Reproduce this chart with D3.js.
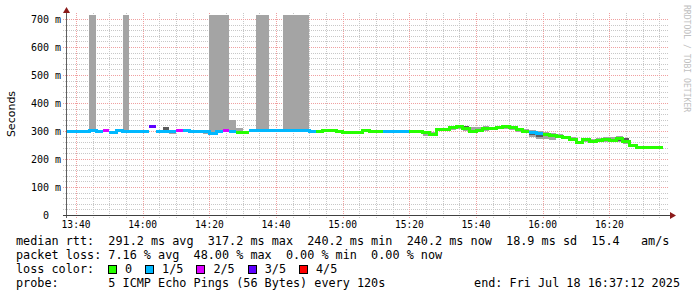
<!DOCTYPE html>
<html><head><meta charset="utf-8">
<script src="https://cdn.jsdelivr.net/npm/d3@7"></script>
<style>
body{margin:0;background:#fff}
svg{display:block}
text{white-space:pre}
</style>
</head><body>
<svg id="chart" width="697" height="297"></svg>
<script>
// ---------- data ----------
const sampleStart = new Date(2025, 6, 18, 13, 36, 0);
const stepSeconds = 120;
const viewStart = new Date(2025, 6, 18, 13, 37, 12);
const viewEnd = new Date(2025, 6, 18, 16, 37, 12);

const medianRtt = [299,299,297,300,301,300,303,293,301,299,
  298,298,298,315,300,298,299,302,301,300,
  297,297,292,297,303,300,296,296,301,302,
  302,302,302,302,302,302,302,300,298,301,
  301,300,296,295,296,301,297,297,297,297,
  297,297,297,297,295,289,305,307,314,317,
  308,297,301,310,309,312,315,313,304,300,
  294,292,288,284,282,278,270,260,270,264,
  266,268,267,272,263,249,241,240.5,240.2,240.2];

const lossCount = [1,1,1,1,1,1,2,1,1,1,
  1,1,1,3,1,1,1,2,1,1,
  1,1,1,1,2,1,0,0,1,1,
  1,1,1,1,1,1,1,1,0,0,
  0,0,0,0,0,0,0,0,1,1,
  1,1,0,0,0,0,0,0,0,0,
  0,0,0,0,0,0,0,0,0,0,
  1,1,0,0,0,0,0,0,0,0,
  0,0,0,0,0,0,0,0,0,0];

const smokeLo = [296,295,292,292,296,296,null,290,null,296,
  null,295,null,null,null,296,290,null,null,null,
  292,290,289,294,300,296,294,null,null,299,
  299,null,null,297,297,297,297,null,null,null,
  null,293,null,290,290,null,null,null,null,null,
  null,null,null,null,283,283,300,300,305,308,
  300,297,301,300,303,306,308,305,298,292,
  280,270,270,268,275,272,265,257,262,258,
  260,262,260,260,255,245,null,null,null,null];
const smokeHi = [301,301,300,302,720,302,null,296,null,720,
  null,298,null,null,null,313,299,null,null,null,
  297,297,720,720,720,340,311,null,null,720,
  720,null,null,720,720,720,720,null,null,null,
  null,300,null,297,297,null,null,null,null,null,
  null,null,null,null,297,297,310,312,318,318,
  316,314,316,318,316,316,318,316,308,308,
  305,300,298,292,288,282,278,265,275,272,
  275,278,280,282,275,255,null,null,null,null];
const darkLo = [297,297,null,null,null,null,null,null,null,null,
  null,null,null,null,null,305,null,null,null,null,
  null,null,null,null,null,null,null,null,null,null,
  null,null,null,null,null,null,null,null,null,null,
  null,null,null,null,290,null,null,null,null,null,
  null,null,null,null,null,null,null,null,null,null,
  309,null,null,303,303,null,null,null,null,null,
  285,280,null,null,null,null,null,null,null,null,
  null,null,null,265,262,null,null,null,null,null];
const darkHi = [302,302,null,null,null,null,null,null,null,null,
  null,null,null,null,null,314,null,null,null,null,
  null,null,null,null,null,null,null,null,null,null,
  null,null,null,null,null,null,null,null,null,null,
  null,null,null,null,296,null,null,null,null,null,
  null,null,null,null,null,null,null,null,null,null,
  317,null,null,316,316,null,null,null,null,null,
  300,296,null,null,null,null,null,null,null,null,
  null,null,null,280,275,null,null,null,null,null];

const yTickValues = [0,100,200,300,400,500,600,700];
const yTickLabels = ["0\u00a0\u00a0","100 m","200 m","300 m","400 m","500 m","600 m","700 m"];
const lossLabels = ["0","1/5","2/5","3/5","4/5"];
const lossColors = ["#26ff00","#00b8ff","#dd00ff","#5e00ff","#ff0000"];
const statLines = [
  "median rtt:  291.2 ms avg  317.2 ms max  240.2 ms min  240.2 ms now  18.9 ms sd  15.4   am/s",
  "packet loss: 7.16 % avg  48.00 % max  0.00 % min  0.00 % now"
];
const lossTitle = "loss color:";
const probeLine = "probe:       5 ICMP Echo Pings (56 Bytes) every 120s";
const endLine = "end: Fri Jul 18 16:37:12 2025";
const yTitle = "Seconds";
const watermark = "RRDTOOL / TOBI OETIKER";

// ---------- layout ----------
const svg = d3.select("#chart");
const L = 66.7, R = 666.7, B = 215, T = 15;
const x = d3.scaleTime().domain([viewStart, viewEnd]).range([L, R]);
const y = d3.scaleLinear().domain([0, 700]).range([B, 19]);
const mono = "'DejaVu Sans Mono', monospace";
const tAt = i => new Date(sampleStart.getTime() + i * stepSeconds * 1000);

svg.append("rect").attr("width", 697).attr("height", 297).attr("fill", "#fff");

// grid
const g = svg.append("g").attr("shape-rendering", "crispEdges");
const minorY = d3.range(20, 720, 20).filter(v => v % 100 !== 0);
g.selectAll(".hmin").data(minorY).join("line")
  .attr("x1", 63).attr("x2", 669)
  .attr("y1", d => Math.round(y(d)) + 0.5).attr("y2", d => Math.round(y(d)) + 0.5)
  .attr("stroke", "#c8c8c8").attr("stroke-dasharray", "1,1");
const minorX = d3.timeMinute.every(5).range(viewStart, viewEnd).filter(d => d.getMinutes() % 20 !== 0);
g.selectAll(".vmin").data(minorX).join("line")
  .attr("x1", d => Math.round(x(d)) + 0.5).attr("x2", d => Math.round(x(d)) + 0.5)
  .attr("y1", 13).attr("y2", 218)
  .attr("stroke", "#c8c8c8").attr("stroke-dasharray", "1,1");
g.selectAll(".hmaj").data(yTickValues.slice(1)).join("line")
  .attr("x1", 63).attr("x2", 669)
  .attr("y1", d => Math.round(y(d)) + 0.5).attr("y2", d => Math.round(y(d)) + 0.5)
  .attr("stroke", "#f0a0a0").attr("stroke-dasharray", "1,1");
const majorX = d3.timeMinute.every(20).range(viewStart, viewEnd);
g.selectAll(".vmaj").data(majorX).join("line")
  .attr("x1", d => Math.round(x(d)) + 0.5).attr("x2", d => Math.round(x(d)) + 0.5)
  .attr("y1", 13).attr("y2", 218)
  .attr("stroke", "#f0a0a0").attr("stroke-dasharray", "1,1");

// clip
svg.append("clipPath").attr("id", "clip").append("rect")
  .attr("x", L).attr("y", T).attr("width", R - L).attr("height", B - T);
const plot = svg.append("g").attr("clip-path", "url(#clip)").attr("shape-rendering", "crispEdges");

const idx = d3.range(medianRtt.length);
const yc = v => y(Math.min(v, 714));
plot.selectAll(".smoke").data(idx.filter(i => smokeLo[i] != null)).join("rect")
  .attr("x", i => x(tAt(i))).attr("width", i => x(tAt(i + 1)) - x(tAt(i)))
  .attr("y", i => yc(smokeHi[i])).attr("height", i => yc(smokeLo[i]) - yc(smokeHi[i]))
  .attr("fill", "#a4a4a4");
plot.selectAll(".dark").data(idx.filter(i => darkLo[i] != null)).join("rect")
  .attr("x", i => x(tAt(i))).attr("width", i => x(tAt(i + 1)) - x(tAt(i)))
  .attr("y", i => yc(darkHi[i])).attr("height", i => yc(darkLo[i]) - yc(darkHi[i]))
  .attr("fill", "#5a5a5a");

// median lines by loss colour
lossColors.forEach((col, c) => {
  const pts = [];
  idx.forEach(i => {
    const ok = lossCount[i] === c;
    pts.push({ t: tAt(i), v: medianRtt[i], ok });
    pts.push({ t: tAt(i + 1), v: medianRtt[i], ok });
  });
  const line = d3.line().defined(d => d.ok).x(d => x(d.t)).y(d => y(d.v));
  plot.append("path").attr("d", line(pts)).attr("fill", "none")
    .attr("stroke", col).attr("stroke-width", 3);
});

// axes
const ax = svg.append("g").attr("shape-rendering", "crispEdges");
ax.append("line").attr("x1", 66.5).attr("x2", 66.5).attr("y1", 11).attr("y2", 218).attr("stroke", "#606060");
ax.append("line").attr("x1", 63).attr("x2", 671).attr("y1", 215.5).attr("y2", 215.5).attr("stroke", "#404040");
svg.append("path").attr("d", "M63,13 L70,13 L66.5,7 Z").attr("fill", "#8b1a1a");
svg.append("path").attr("d", "M670,212 L670,219 L676,215.5 Z").attr("fill", "#8b1a1a");

// tick labels
svg.selectAll(".yl").data(yTickValues).join("text")
  .attr("x", 61).attr("y", d => y(d) + 3.5).attr("text-anchor", "end")
  .attr("font-family", mono).attr("font-size", 10).attr("fill", "#000")
  .text((d, i) => yTickLabels[i]);
svg.selectAll(".xl").data(majorX).join("text")
  .attr("x", d => x(d)).attr("y", 228).attr("text-anchor", "middle")
  .attr("font-family", mono).attr("font-size", 9.6).attr("fill", "#000")
  .text(d => d3.timeFormat("%H:%M")(d));

svg.append("text").attr("transform", "translate(15,114) rotate(-90)")
  .attr("text-anchor", "middle").attr("font-family", "'DejaVu Sans', sans-serif")
  .attr("font-size", 11).attr("fill", "#000").text(yTitle);

svg.append("text").attr("transform", "translate(684,5) rotate(90)")
  .attr("font-family", mono).attr("font-size", 8.1).attr("fill", "#c0c0c0").text(watermark);

// legend
const fs = 11.8;
statLines.forEach((s, i) => {
  svg.append("text").attr("x", 16).attr("y", 245 + i * 14)
    .attr("font-family", mono).attr("font-size", fs).attr("fill", "#000").text(s);
});
svg.append("text").attr("x", 16).attr("y", 273).attr("font-family", mono)
  .attr("font-size", fs).attr("fill", "#000").text(lossTitle);
let lx = 108;
lossLabels.forEach((lab, i) => {
  svg.append("rect").attr("x", lx + 0.5).attr("y", 265.5).attr("width", 8).attr("height", 8)
    .attr("fill", lossColors[i]).attr("stroke", "#000").attr("shape-rendering", "crispEdges");
  svg.append("text").attr("x", lx + 17).attr("y", 273).attr("font-family", mono)
    .attr("font-size", fs).attr("fill", "#000").text(lab);
  lx += 17 + lab.length * 7.1 + 13;
});
svg.append("text").attr("x", 16).attr("y", 287).attr("font-family", mono)
  .attr("font-size", fs).attr("fill", "#000").text(probeLine);
svg.append("text").attr("x", 680).attr("y", 287).attr("text-anchor", "end").attr("font-family", mono)
  .attr("font-size", fs).attr("fill", "#000").text(endLine);
</script>
</body></html>
